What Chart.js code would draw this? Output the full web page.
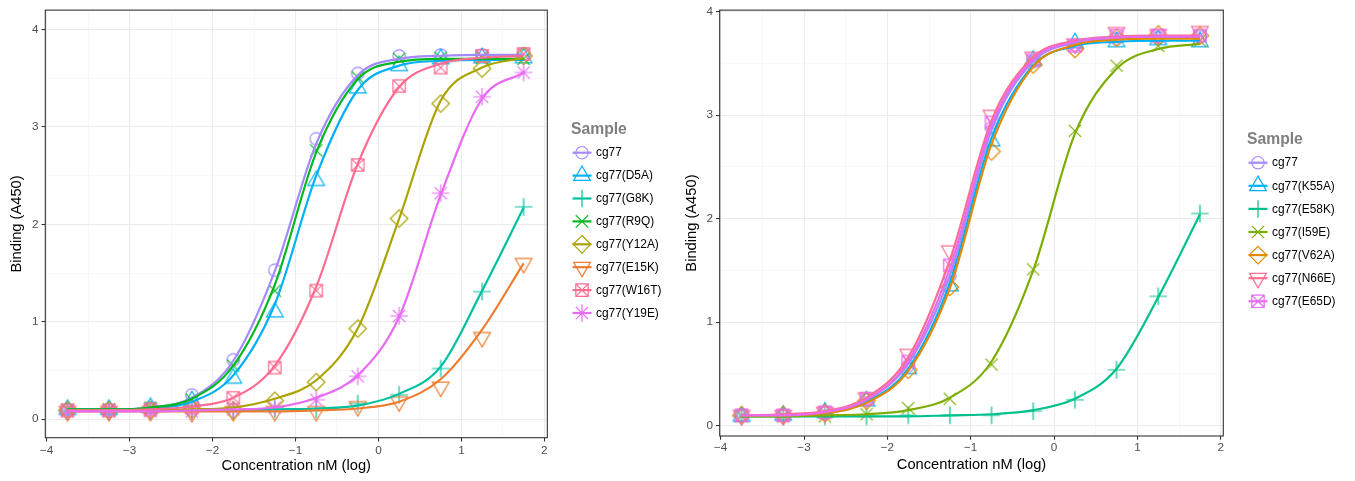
<!DOCTYPE html>
<html><head><meta charset="utf-8">
<script src="https://cdn.jsdelivr.net/npm/chart.js@4"></script>
<style>
html,body{margin:0;padding:0;background:#fff;width:1355px;height:481px;overflow:hidden}
.wrap{position:absolute;top:0;height:481px}
canvas{display:block}
</style></head><body>
<div class="wrap" style="left:0;width:680px"><canvas id="c1" width="680" height="481"></canvas></div>
<div class="wrap" style="left:680px;width:675px"><canvas id="c2" width="675" height="481"></canvas></div>
<script>
// ---------- data ----------
const concentrations = [-3.75,-3.25,-2.75,-2.25,-1.75,-1.25,-0.75,-0.25,0.25,0.75,1.25,1.75];
const xTickLabels = [-4,-3,-2,-1,0,1,2];
const yTickLabels = [0,1,2,3,4];

// left panel
const leftSamples = ['cg77','cg77(D5A)','cg77(G8K)','cg77(R9Q)','cg77(Y12A)','cg77(E15K)','cg77(W16T)','cg77(Y19E)'];
const leftColors  = ['#A58AFF','#00B0F6','#00C19F','#00B81F','#ABA300','#EE7D32','#FF6C91','#E76BF3'];
const leftShapes  = ['circle','triangle','plus','cross','diamond','downTriangle','squareCross','asterisk'];
const L_cg77      = [0.10,0.10,0.12,0.25,0.61,1.53,2.88,3.55,3.73,3.74,3.74,3.75];
const L_D5A       = [0.10,0.10,0.12,0.19,0.42,1.10,2.45,3.40,3.63,3.70,3.71,3.71];
const L_G8K       = [0.09,0.09,0.09,0.09,0.09,0.10,0.10,0.16,0.25,0.52,1.31,2.18];
const L_R9Q       = [0.10,0.10,0.12,0.20,0.55,1.32,2.76,3.51,3.70,3.71,3.71,3.70];
const L_Y12A      = [0.09,0.09,0.09,0.10,0.09,0.19,0.38,0.93,2.06,3.24,3.60,3.73];
const L_E15K      = [0.08,0.08,0.08,0.07,0.08,0.08,0.08,0.13,0.18,0.33,0.84,1.60];
const L_W16T      = [0.09,0.09,0.10,0.12,0.22,0.53,1.32,2.61,3.42,3.61,3.73,3.75];
const L_Y19E      = [0.08,0.08,0.08,0.08,0.10,0.12,0.20,0.44,1.06,2.32,3.31,3.56];
// fitted curves (at the same concentrations)
const L_cg77_fit  = [0.10,0.10,0.12,0.22,0.60,1.52,2.83,3.53,3.70,3.73,3.74,3.74];
const L_D5A_fit   = [0.10,0.10,0.11,0.18,0.45,1.18,2.50,3.38,3.63,3.68,3.69,3.69];
const L_G8K_fit   = [0.09,0.09,0.09,0.09,0.09,0.10,0.11,0.14,0.26,0.54,1.32,2.17];
const L_R9Q_fit   = [0.10,0.10,0.12,0.21,0.55,1.38,2.74,3.49,3.67,3.70,3.70,3.70];
const L_Y12A_fit  = [0.09,0.09,0.09,0.10,0.12,0.21,0.40,0.93,2.06,3.27,3.61,3.71];
const L_E15K_fit  = [0.08,0.08,0.08,0.08,0.08,0.08,0.09,0.11,0.18,0.41,0.92,1.60];
const L_W16T_fit  = [0.09,0.09,0.10,0.13,0.22,0.55,1.36,2.62,3.41,3.65,3.71,3.73];
const L_Y19E_fit  = [0.08,0.08,0.08,0.09,0.10,0.12,0.22,0.45,1.05,2.30,3.29,3.56];

// right panel
const rightSamples = ['cg77','cg77(K55A)','cg77(E58K)','cg77(I59E)','cg77(V62A)','cg77(N66E)','cg77(E65D)'];
const rightColors  = ['#A58AFF','#00B0F6','#00C08B','#7CAE00','#E18A00','#FF6C91','#E76BF3'];
const rightShapes  = ['circle','triangle','plus','cross','diamond','downTriangle','squareCross'];
const R_cg77       = [0.10,0.10,0.13,0.25,0.58,1.45,2.88,3.52,3.68,3.74,3.75,3.76];
const R_K55A       = [0.09,0.10,0.13,0.24,0.55,1.35,2.75,3.53,3.70,3.71,3.73,3.71];
const R_E58K       = [0.09,0.09,0.09,0.09,0.10,0.10,0.10,0.14,0.25,0.54,1.25,2.05];
const R_I59E       = [0.09,0.09,0.09,0.11,0.17,0.26,0.59,1.51,2.85,3.48,3.67,3.72];
const R_V62A       = [0.10,0.10,0.12,0.24,0.54,1.34,2.65,3.49,3.64,3.75,3.78,3.77];
const R_N66E       = [0.10,0.10,0.13,0.27,0.69,1.69,3.00,3.56,3.69,3.80,3.78,3.81];
const R_E65D       = [0.10,0.10,0.13,0.26,0.62,1.55,2.93,3.53,3.67,3.77,3.77,3.77];
const R_cg77_fit   = [0.10,0.10,0.13,0.25,0.60,1.45,2.86,3.52,3.70,3.74,3.75,3.75];
const R_K55A_fit   = [0.10,0.10,0.12,0.23,0.55,1.38,2.78,3.48,3.67,3.71,3.72,3.72];
const R_E58K_fit   = [0.09,0.09,0.09,0.09,0.09,0.10,0.11,0.15,0.26,0.55,1.24,2.04];
const R_I59E_fit   = [0.09,0.09,0.10,0.11,0.15,0.27,0.62,1.50,2.82,3.45,3.64,3.69];
const R_V62A_fit   = [0.10,0.10,0.12,0.22,0.53,1.33,2.72,3.47,3.68,3.73,3.74,3.74];
const R_N66E_fit   = [0.10,0.11,0.14,0.27,0.66,1.60,2.95,3.56,3.72,3.76,3.77,3.77];
const R_E65D_fit   = [0.10,0.10,0.13,0.25,0.62,1.52,2.90,3.54,3.71,3.75,3.76,3.76];

// ---------- helpers ----------
Chart.defaults.font.family = "'Liberation Sans', Arial, Helvetica, sans-serif";
const R0 = 6.2;
function drawShape(ctx, shape, cx, cy, color, r){
  const s2 = Math.SQRT2 * r;
  ctx.save();
  ctx.strokeStyle = color; ctx.lineWidth = 1.2; ctx.beginPath();
  switch(shape){
    case 'circle': ctx.arc(cx, cy, r, 0, 2*Math.PI); break;
    case 'triangle': { const a=1.5551*r, b=1.3468*r, c=0.7776*r;
      ctx.moveTo(cx, cy-a); ctx.lineTo(cx+b, cy+c); ctx.lineTo(cx-b, cy+c); ctx.closePath(); break; }
    case 'downTriangle': { const a=1.5551*r, b=1.3468*r, c=0.7776*r;
      ctx.moveTo(cx, cy+a); ctx.lineTo(cx+b, cy-c); ctx.lineTo(cx-b, cy-c); ctx.closePath(); break; }
    case 'plus': ctx.moveTo(cx-s2, cy); ctx.lineTo(cx+s2, cy); ctx.moveTo(cx, cy-s2); ctx.lineTo(cx, cy+s2); break;
    case 'cross': ctx.moveTo(cx-r, cy-r); ctx.lineTo(cx+r, cy+r); ctx.moveTo(cx-r, cy+r); ctx.lineTo(cx+r, cy-r); break;
    case 'diamond': ctx.moveTo(cx, cy-s2); ctx.lineTo(cx+s2, cy); ctx.lineTo(cx, cy+s2); ctx.lineTo(cx-s2, cy); ctx.closePath(); break;
    case 'squareCross': ctx.rect(cx-r, cy-r, 2*r, 2*r);
      ctx.moveTo(cx-r, cy-r); ctx.lineTo(cx+r, cy+r); ctx.moveTo(cx-r, cy+r); ctx.lineTo(cx+r, cy-r); break;
    case 'asterisk': ctx.moveTo(cx-r, cy-r); ctx.lineTo(cx+r, cy+r); ctx.moveTo(cx-r, cy+r); ctx.lineTo(cx+r, cy-r);
      ctx.moveTo(cx-s2, cy); ctx.lineTo(cx+s2, cy); ctx.moveTo(cx, cy-s2); ctx.lineTo(cx, cy+s2); break;
  }
  ctx.stroke(); ctx.restore();
}
function makeMarker(shape, color){
  const c = document.createElement('canvas'); c.width = 24; c.height = 24;
  drawShape(c.getContext('2d'), shape, 12, 12, color, R0);
  return c;
}
function fmt(v){ return v < 0 ? '\u2212' + Math.abs(v) : String(v); }
function withMinor(majors){
  const out = [];
  majors.forEach((m,i)=>{ out.push(m); if (i < majors.length-1) out.push((m+majors[i+1])/2); });
  return out;
}
function isMajor(v, majors){ return majors.some(m => Math.abs(m - v) < 1e-9); }

function scaleCfg(kind, min, max, majors, size, tickPad, titleText, titlePad){
  const maj = c => c.tick && isMajor(c.tick.value, majors);
  return {
    type:'linear', min:min, max:max,
    afterBuildTicks: s => { s.ticks = withMinor(majors).filter(v => v >= min && v <= max).map(v => ({value:v})); },
    afterFit: s => { if (kind === 'x') s.height = size; else s.width = size; },
    ticks: { autoSkip:false, maxRotation:0, minRotation:0, padding:tickPad, color:'#4D4D4D', font:{size:11.7},
             callback: v => isMajor(v, majors) ? fmt(v) : '' },
    grid: { color: c => maj(c) ? '#EBEBEB' : '#F4F4F4', lineWidth: c => maj(c) ? 1.07 : 0.6,
            tickColor: c => maj(c) ? '#333333' : 'rgba(0,0,0,0)', tickLength:3.7, tickWidth:1.07, drawTicks:true },
    border: { display:false },
    title: { display:true, text:titleText, color:'#000000', font:{size:14.7},
             padding: kind === 'x' ? {top:0, bottom:titlePad} : {top:titlePad, bottom:0} }
  };
}

function buildDatasets(samples, colors, shapes, points, fits){
  const n = samples.length, ds = [];
  samples.forEach((name, i) => {
    ds.push({ label:name, data: concentrations.map((x,j)=>({x:x, y:fits[i][j]})), showLine:true,
              borderColor:colors[i], borderWidth:2.2, pointRadius:0, cubicInterpolationMode:'monotone', fill:false, order:n-i });
    ds.push({ label:name + ' data', data: concentrations.map((x,j)=>({x:x, y:points[i][j]})), showLine:false,
              pointStyle: makeMarker(shapes[i], colors[i]), pointRadius:6, order:100+n-i });
  });
  return ds;
}

const panelPlugin = {
  id:'panel',
  afterDatasetsDraw(chart){
    const {ctx, chartArea:a} = chart;
    ctx.save(); ctx.strokeStyle = '#333333'; ctx.lineWidth = 1.1;
    ctx.strokeRect(a.left, a.top, a.right - a.left, a.bottom - a.top); ctx.restore();
  },
  afterDraw(chart, args, o){
    const ctx = chart.ctx;
    ctx.save();
    ctx.textBaseline = 'middle'; ctx.textAlign = 'left';
    ctx.fillStyle = '#7F7F7F';
    ctx.font = "bold 15.7px 'Liberation Sans', Arial, sans-serif";
    ctx.fillText(o.title, o.titleX, o.titleY);
    ctx.font = "11.9px 'Liberation Sans', Arial, sans-serif";
    o.samples.forEach((s, i) => {
      const y = o.itemY0 + i * o.itemStep;
      drawShape(ctx, o.shapes[i], o.keyX, y, o.colors[i], R0);
      ctx.strokeStyle = o.colors[i]; ctx.lineWidth = 2.2;
      ctx.beginPath(); ctx.moveTo(o.keyX - 9.5, y); ctx.lineTo(o.keyX + 9.5, y); ctx.stroke();
      ctx.fillStyle = '#000000';
      ctx.fillText(s, o.textX, y + 0.5);
    });
    ctx.restore();
  }
};

function makeChart(id, cfg){
  return new Chart(document.getElementById(id), {
    type:'scatter',
    data:{ datasets: buildDatasets(cfg.samples, cfg.colors, cfg.shapes, cfg.points, cfg.fits) },
    options:{
      responsive:false, animation:false, devicePixelRatio:1,
      layout:{ padding: cfg.padding },
      scales:{
        x: scaleCfg('x', cfg.xMin, cfg.xMax, xTickLabels, cfg.xHeight, cfg.xTickPad, 'Concentration nM (log)', cfg.xTitlePad),
        y: scaleCfg('y', cfg.yMin, cfg.yMax, yTickLabels, cfg.yWidth, 3.1, 'Binding (A450)', cfg.yTitlePad)
      },
      plugins:{ legend:{display:false}, tooltip:{enabled:false}, panel: cfg.legend }
    },
    plugins:[panelPlugin]
  });
}

makeChart('c1', {
  samples:leftSamples, colors:leftColors, shapes:leftShapes,
  points:[L_cg77,L_D5A,L_G8K,L_R9Q,L_Y12A,L_E15K,L_W16T,L_Y19E],
  fits:[L_cg77_fit,L_D5A_fit,L_G8K_fit,L_R9Q_fit,L_Y12A_fit,L_E15K_fit,L_W16T_fit,L_Y19E_fit],
  xMin:-4.017, xMax:2.036, yMin:-0.19, yMax:4.2,
  padding:{left:0, top:9.5, right:132.7, bottom:0},
  xHeight:43.3, yWidth:45.3, xTickPad:2.3, xTitlePad:6.2, yTitlePad:8.2,
  legend:{ title:'Sample', titleX:571, titleY:130, keyX:582, textX:596, itemY0:152.7, itemStep:22.9,
           samples:leftSamples, colors:leftColors, shapes:leftShapes }
});
makeChart('c2', {
  samples:rightSamples, colors:rightColors, shapes:rightShapes,
  points:[R_cg77,R_K55A,R_E58K,R_I59E,R_V62A,R_N66E,R_E65D],
  fits:[R_cg77_fit,R_K55A_fit,R_E58K_fit,R_I59E_fit,R_V62A_fit,R_N66E_fit,R_E65D_fit],
  xMin:-4.012, xMax:2.031, yMin:-0.1, yMax:4.016,
  padding:{left:0, top:7.3, right:131.7, bottom:0},
  xHeight:45, yWidth:39.7, xTickPad:1.2, xTitlePad:7.2, yTitlePad:3,
  legend:{ title:'Sample', titleX:567, titleY:140, keyX:578, textX:592, itemY0:162.7, itemStep:23.1,
           samples:rightSamples, colors:rightColors, shapes:rightShapes }
});
</script>
</body></html>
